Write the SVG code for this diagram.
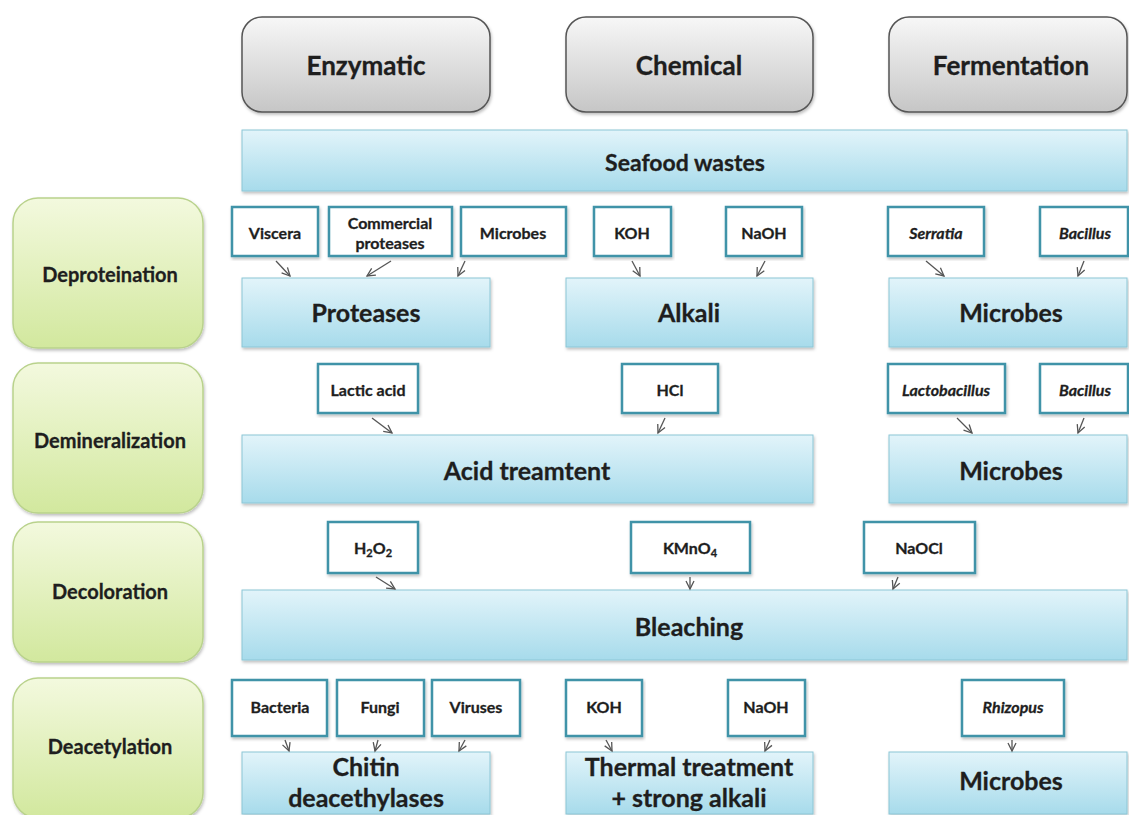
<svg xmlns="http://www.w3.org/2000/svg" width="1129" height="815" viewBox="0 0 1129 815">
<defs>
<linearGradient id="gGray" x1="0" y1="0" x2="0" y2="1"><stop offset="0" stop-color="#f7f7f7"/><stop offset="1" stop-color="#c6c6c6"/></linearGradient>
<linearGradient id="gBlue" x1="0" y1="0" x2="0" y2="1"><stop offset="0" stop-color="#e2f4fa"/><stop offset="1" stop-color="#a7dbeb"/></linearGradient>
<linearGradient id="gGreen" x1="0" y1="0" x2="0" y2="1"><stop offset="0" stop-color="#f3f9de"/><stop offset="1" stop-color="#d2e89e"/></linearGradient>
<filter id="sh" x="-5%" y="-5%" width="110%" height="115%"><feDropShadow dx="1" dy="2" stdDeviation="1.5" flood-color="#000" flood-opacity="0.25"/></filter>
<marker id="ah" markerUnits="userSpaceOnUse" markerWidth="12" markerHeight="12" refX="9" refY="5" orient="auto"><path d="M1,1 L9,5 L1,9" fill="none" stroke="#555" stroke-width="1.3"/></marker>
</defs>
<style>
.gray{fill:url(#gGray);stroke:#555;stroke-width:1.5;filter:url(#sh)}
.blue{fill:url(#gBlue);stroke:#8cc6d6;stroke-width:1;filter:url(#sh)}
.green{fill:url(#gGreen);stroke:#b9d28c;stroke-width:1.5;filter:url(#sh)}
.small{fill:#fff;stroke:#3f93a8;stroke-width:2.5;filter:url(#sh)}
text{font-family:Lato,"Open Sans","Liberation Sans",sans-serif;font-weight:bold;fill:#1e1e1e;stroke:#1e1e1e;stroke-width:0.3;text-anchor:middle;dominant-baseline:central}
.t1{font-size:26px}
.t2{font-size:23px}
.t3{font-size:20px}
.t4{font-size:25px}
.t5{font-size:16px}
.it{font-style:italic}
.sub{font-size:11px}
#connectors line{stroke:#555;stroke-width:1.3;marker-end:url(#ah)}
</style>
<rect width="1129" height="815" fill="#fff"/>

<g id="enzymatic"><rect class="gray" x="242" y="17" width="248" height="95" rx="20"/><text class="t1" x="366" y="65">Enzymatic</text></g>
<g id="chemical"><rect class="gray" x="566" y="17" width="247" height="95" rx="20"/><text class="t1" x="689" y="65">Chemical</text></g>
<g id="fermentation"><rect class="gray" x="889" y="17" width="238" height="95" rx="20"/><text class="t1" x="1011" y="65">Fermentation</text></g>

<g id="seafood"><rect class="blue" x="242" y="130" width="885" height="61"/><text class="t2" x="685" y="162">Seafood wastes</text></g>

<g id="deproteination"><rect class="green" x="13" y="198" width="190" height="150" rx="25"/><text class="t3" x="110" y="274">Deproteination</text></g>
<g id="demineralization"><rect class="green" x="13" y="363" width="190" height="150" rx="25"/><text class="t3" x="110" y="440">Demineralization</text></g>
<g id="decoloration"><rect class="green" x="13" y="522" width="190" height="140" rx="25"/><text class="t3" x="110" y="591">Decoloration</text></g>
<g id="deacetylation"><rect class="green" x="13" y="678" width="190" height="140" rx="25"/><text class="t3" x="110" y="746">Deacetylation</text></g>

<!-- Row 1 -->
<g id="viscera"><rect class="small" x="232" y="207" width="86" height="49"/><text class="t5" x="275" y="232">Viscera</text></g>
<g id="commercial"><rect class="small" x="329" y="207" width="123" height="49"/><text class="t5" x="390" y="222">Commercial</text><text class="t5" x="390" y="242">proteases</text></g>
<g id="microbes1s"><rect class="small" x="461" y="207" width="105" height="49"/><text class="t5" x="513" y="232">Microbes</text></g>
<g id="koh1"><rect class="small" x="594" y="207" width="77" height="49"/><text class="t5" x="632" y="232">KOH</text></g>
<g id="naoh1"><rect class="small" x="726" y="207" width="76" height="49"/><text class="t5" x="764" y="232">NaOH</text></g>
<g id="serratia"><rect class="small" x="888" y="207" width="96" height="49"/><text class="t5 it" x="936" y="232">Serratia</text></g>
<g id="bacillus1"><rect class="small" x="1040" y="207" width="88" height="49"/><text class="t5 it" x="1085" y="232">Bacillus</text></g>

<g id="proteases"><rect class="blue" x="242" y="278" width="248" height="69"/><text class="t4" x="366" y="312">Proteases</text></g>
<g id="alkali"><rect class="blue" x="566" y="278" width="247" height="69"/><text class="t4" x="689" y="312">Alkali</text></g>
<g id="microbes1"><rect class="blue" x="889" y="278" width="238" height="69"/><text class="t4" x="1011" y="312">Microbes</text></g>

<!-- Row 2 -->
<g id="lactic"><rect class="small" x="318" y="364" width="100" height="49"/><text class="t5" x="368" y="389">Lactic acid</text></g>
<g id="hcl"><rect class="small" x="622" y="364" width="96" height="49"/><text class="t5" x="670" y="389">HCl</text></g>
<g id="lactobacillus"><rect class="small" x="888" y="364" width="117" height="49"/><text class="t5 it" x="946" y="389">Lactobacillus</text></g>
<g id="bacillus2"><rect class="small" x="1040" y="364" width="88" height="49"/><text class="t5 it" x="1085" y="389">Bacillus</text></g>

<g id="acid"><rect class="blue" x="242" y="435" width="571" height="68"/><text class="t4" x="527" y="470">Acid treamtent</text></g>
<g id="microbes2"><rect class="blue" x="889" y="435" width="238" height="68"/><text class="t4" x="1011" y="470">Microbes</text></g>

<!-- Row 3 -->
<g id="h2o2"><rect class="small" x="328" y="522" width="90" height="51"/><text class="t5" x="373" y="547">H<tspan class="sub" dy="5">2</tspan><tspan dy="-5">O</tspan><tspan class="sub" dy="5">2</tspan></text></g>
<g id="kmno4"><rect class="small" x="631" y="522" width="119" height="51"/><text class="t5" x="690" y="547">KMnO<tspan class="sub" dy="5">4</tspan></text></g>
<g id="naocl"><rect class="small" x="864" y="522" width="111" height="51"/><text class="t5" x="919" y="547">NaOCl</text></g>

<g id="bleaching"><rect class="blue" x="242" y="590" width="885" height="70"/><text class="t4" x="689" y="626">Bleaching</text></g>

<!-- Row 4 -->
<g id="bacteria"><rect class="small" x="232" y="680" width="95" height="56"/><text class="t5" x="280" y="706">Bacteria</text></g>
<g id="fungi"><rect class="small" x="337" y="680" width="87" height="56"/><text class="t5" x="380" y="706">Fungi</text></g>
<g id="viruses"><rect class="small" x="432" y="680" width="88" height="56"/><text class="t5" x="476" y="706">Viruses</text></g>
<g id="koh2"><rect class="small" x="566" y="680" width="76" height="56"/><text class="t5" x="604" y="706">KOH</text></g>
<g id="naoh2"><rect class="small" x="728" y="680" width="77" height="56"/><text class="t5" x="766" y="706">NaOH</text></g>
<g id="rhizopus"><rect class="small" x="962" y="680" width="102" height="56"/><text class="t5 it" x="1013" y="706">Rhizopus</text></g>

<g id="chitin"><rect class="blue" x="242" y="752" width="248" height="62"/><text class="t4" x="366" y="766">Chitin</text><text class="t4" x="366" y="797">deacethylases</text></g>
<g id="thermal"><rect class="blue" x="566" y="752" width="247" height="62"/><text class="t4" x="689" y="766">Thermal treatment</text><text class="t4" x="689" y="797">+ strong alkali</text></g>
<g id="microbes4"><rect class="blue" x="889" y="752" width="238" height="62"/><text class="t4" x="1011" y="780">Microbes</text></g>

<g id="connectors">
<line x1="276" y1="261" x2="290" y2="276"/>
<line x1="391" y1="261" x2="367" y2="276"/>
<line x1="465" y1="261" x2="458" y2="276"/>
<line x1="632" y1="261" x2="640" y2="276"/>
<line x1="765" y1="261" x2="757" y2="276"/>
<line x1="926" y1="261" x2="944" y2="276"/>
<line x1="1084" y1="261" x2="1078" y2="276"/>

<line x1="372" y1="418" x2="392" y2="433"/>
<line x1="665" y1="418" x2="658" y2="433"/>
<line x1="957" y1="418" x2="972" y2="433"/>
<line x1="1084" y1="418" x2="1078" y2="433"/>

<line x1="376" y1="577" x2="395" y2="589"/>
<line x1="690" y1="577" x2="690" y2="589"/>
<line x1="898" y1="577" x2="893" y2="589"/>

<line x1="285" y1="740" x2="289" y2="751"/>
<line x1="378" y1="740" x2="375" y2="751"/>
<line x1="465" y1="740" x2="459" y2="751"/>
<line x1="606" y1="740" x2="612" y2="751"/>
<line x1="770" y1="740" x2="765" y2="751"/>
<line x1="1012" y1="740" x2="1012" y2="751"/>
</g>
</svg>
